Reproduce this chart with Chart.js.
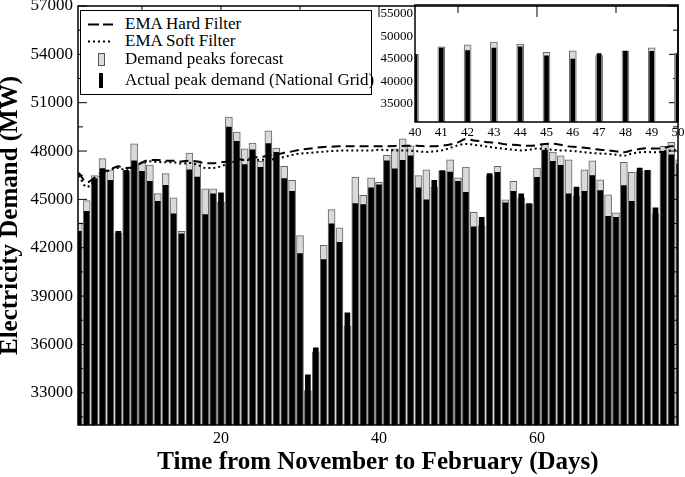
<!DOCTYPE html>
<html>
<head>
<meta charset="utf-8">
<script src="https://cdn.jsdelivr.net/npm/chart.js@4.4.1/dist/chart.umd.min.js"></script>
<style>
  html, body { margin: 0; padding: 0; background: #fff; }
  #wrap { position: relative; width: 685px; height: 477px; overflow: hidden; }
  #main-chart { position: absolute; left: 0; top: 0; }
  #inset-chart { position: absolute; left: 370px; top: 0; }
  #legend-box { position: absolute; left: 80px; top: 10px; width: 290px; height: 83px; border: 1.5px solid #000; background: #fff; }
  .leg-text { position: absolute; left: 125px; height: 20px; line-height: 20px; white-space: nowrap;
              font-family: 'Liberation Serif', 'Times New Roman', serif; font-size: 17px; color: #000; }
  .leg-sym { position: absolute; }
</style>
</head>
<body>
<div id="wrap">
  <canvas id="main-chart" width="685" height="477"></canvas>
  <canvas id="inset-chart" width="315" height="145"></canvas>
  <div id="legend-box"></div>
  <svg class="leg-sym" style="left:88px; top:23px" width="25" height="3"><line x1="0" y1="1.5" x2="25" y2="1.5" stroke="#000" stroke-width="2" stroke-dasharray="11 4"/></svg>
  <div class="leg-text" style="top:14px">EMA Hard Filter</div>
  <svg class="leg-sym" style="left:88px; top:40px" width="25" height="3"><line x1="0" y1="1.5" x2="25" y2="1.5" stroke="#000" stroke-width="2" stroke-dasharray="2 3"/></svg>
  <div class="leg-text" style="top:31px">EMA Soft Filter</div>
  <div class="leg-sym" style="left:98px; top:53px; width:5px; height:11px; background:#dcdcdc; border:1px solid #555"></div>
  <div class="leg-text" style="top:49px">Demand peaks forecast</div>
  <div class="leg-sym" style="left:99px; top:73px; width:4px; height:15px; background:#000"></div>
  <div class="leg-text" style="top:70px">Actual peak demand (National Grid)</div>
</div>
<script>
// 每日峰值需求 (MW)
const days = [2, 3, 4, 5, 6, 7, 8, 9, 10, 11, 12, 13, 14, 15, 16, 17, 18, 19, 20, 21,
              22, 23, 24, 25, 26, 27, 28, 29, 30, 31, 32, 33, 34, 35, 36, 37, 38, 39, 40, 41,
              42, 43, 44, 45, 46, 47, 48, 49, 50, 51, 52, 53, 54, 55, 56, 57, 58, 59, 60, 61,
              62, 63, 64, 65, 66, 67, 68, 69, 70, 71, 72, 73, 74, 75, 76, 77, 78];

const forecastPeak = [43540, 44920, 46470, 47530, 46840, 42900, 46750, 48440, 47260, 47130,
                      45360, 46600, 45090, 43020, 47880, 47400, 45650, 45650, 44820, 50110,
                      49180, 48130, 48500, 47360, 49260, 48190, 47050, 46180, 42750, 33140,
                      35540, 42150, 44360, 43230, 37130, 46390, 45250, 46330, 46060, 47730,
                      48130, 48750, 48330, 46470, 46840, 45770, 46740, 47460, 46330, 47010,
                      44200, 43370, 46470, 47050, 44980, 46120, 45090, 44700, 46950, 48460,
                      47940, 47710, 47460, 45190, 46840, 47400, 46220, 45290, 44160, 47300,
                      46680, 46740, 46780, 44100, 48290, 48540, 47460];

const actualPeak = [43020, 44260, 46270, 46910, 46180, 43020, 46800, 47400, 46740, 46120,
                    44880, 45870, 44100, 42860, 46840, 46390, 44050, 45340, 45400, 49490,
                    48600, 47160, 48080, 46990, 48460, 47920, 46290, 45500, 41640, 34110,
                    35790, 41260, 43480, 42340, 37960, 44740, 44670, 45710, 45910, 47400,
                    46890, 47420, 47710, 45710, 44980, 46180, 46780, 46700, 46120, 45440,
                    43290, 43890, 46600, 46680, 44780, 45500, 45340, 44740, 46370, 48040,
                    47360, 47110, 45340, 45770, 45500, 46470, 45540, 43950, 43890, 45850,
                    44880, 46950, 46800, 44470, 47980, 47770, 47200];

const emaHard = [46650, 46050, 46350, 46700, 46850, 47050, 46950, 47000, 47300, 47450,
                 47450, 47400, 47400, 47350, 47400, 47350, 47250, 47250, 47300, 47350,
                 47500, 47450, 47600, 47620, 47710, 47770, 47900, 47980, 48080, 48140,
                 48200, 48250, 48270, 48290, 48290, 48290, 48290, 48290, 48290, 48300,
                 48310, 48320, 48330, 48320, 48300, 48300, 48330, 48400, 48540, 48750,
                 48660, 48600, 48540, 48500, 48420, 48390, 48350, 48330, 48360, 48440,
                 48460, 48390, 48290, 48250, 48200, 48150, 48080, 48040, 47980, 47920,
                 48040, 48130, 48170, 48150, 48190, 48290, 48290];

const emaSoft = [46470, 45770, 46120, 46530, 46840, 46950, 46800, 47050, 47260, 47360,
                 47320, 47300, 47300, 47220, 47260, 47150, 46950, 46950, 47050, 47260,
                 47360, 47460, 47420, 47460, 47460, 47530, 47630, 47760, 47840, 47880,
                 47920, 47960, 48000, 48020, 48040, 48040, 48040, 48040, 48080, 48060,
                 48040, 48040, 48020, 47980, 47940, 47980, 48040, 48190, 48350, 48440,
                 48390, 48330, 48250, 48190, 48130, 48080, 48040, 48080, 48150, 48130,
                 48080, 48040, 48020, 47980, 47920, 47880, 47840, 47820, 47770, 47710,
                 47840, 47920, 47940, 47920, 47980, 48040, 48080];

// 座標軸刻度
const yTicksMain = [33000, 36000, 39000, 42000, 45000, 48000, 51000, 54000, 57000];
const yMinorMain = [31500, 34500, 37500, 40500, 43500, 46500, 49500, 52500, 55500];
const xTicksMain = [20, 40, 60];
const xMinorMain = [10, 30, 50, 70];
const yTicksInset = [35000, 40000, 45000, 50000, 55000];
const xTicksInset = [40, 41, 42, 43, 44, 45, 46, 47, 48, 49, 50];

const serif = "'Liberation Serif', 'Times New Roman', serif";
Chart.defaults.font.family = serif;
Chart.defaults.color = '#000';

function points(values) {
    return days.map((d, i) => ({ x: d, y: values[i] }));
}

// 外框與向內刻度
const mainFrame = {
    id: 'mainFrame',
    afterDatasetsDraw(chart) {
        const { ctx, chartArea: a, scales: { x, y } } = chart;
        ctx.save();
        ctx.strokeStyle = '#000';
        ctx.lineWidth = 1;
        ctx.beginPath();
        const tickY = (v, len) => {
            const py = y.getPixelForValue(v);
            ctx.moveTo(a.left, py); ctx.lineTo(a.left + len, py);
            ctx.moveTo(a.right, py); ctx.lineTo(a.right - len, py);
        };
        const tickX = (v, len) => {
            const px = x.getPixelForValue(v);
            ctx.moveTo(px, a.top); ctx.lineTo(px, a.top + len);
            ctx.moveTo(px, a.bottom); ctx.lineTo(px, a.bottom - len);
        };
        yTicksMain.forEach(v => tickY(v, 9));
        yMinorMain.forEach(v => tickY(v, 5));
        xTicksMain.forEach(v => tickX(v, 11));
        xMinorMain.forEach(v => tickX(v, 7));
        ctx.stroke();
        ctx.lineWidth = 1.5;
        ctx.strokeRect(a.left, a.top, a.right - a.left, a.bottom - a.top);
        ctx.restore();
    }
};

const insetFrame = {
    id: 'insetFrame',
    afterDatasetsDraw(chart) {
        const { ctx, chartArea: a } = chart;
        ctx.save();
        ctx.strokeStyle = '#000';
        ctx.lineWidth = 1.5;
        ctx.strokeRect(a.left, a.top, a.right - a.left, a.bottom - a.top);
        ctx.restore();
    }
};

// 主圖表
new Chart(document.getElementById('main-chart'), {
    type: 'bar',
    data: {
        datasets: [
            {
                type: 'line',
                label: 'EMA Hard Filter',
                data: points(emaHard),
                borderColor: '#000',
                borderWidth: 2,
                borderDash: [9, 5],
                pointRadius: 0,
                cubicInterpolationMode: 'monotone',
                order: 0
            },
            {
                type: 'line',
                label: 'EMA Soft Filter',
                data: points(emaSoft),
                borderColor: '#000',
                borderWidth: 2,
                borderDash: [2, 3],
                pointRadius: 0,
                cubicInterpolationMode: 'monotone',
                order: 0
            },
            {
                label: 'Actual peak demand (National Grid)',
                data: points(actualPeak),
                backgroundColor: '#000',
                barThickness: 5,
                grouped: false,
                order: 1
            },
            {
                label: 'Demand peaks forecast',
                data: points(forecastPeak),
                backgroundColor: '#d9d9d9',
                borderColor: '#666',
                borderWidth: 1,
                barThickness: 7,
                grouped: false,
                order: 2
            }
        ]
    },
    options: {
        responsive: false,
        animation: false,
        layout: { padding: { left: 0, right: 7, top: 6, bottom: 0 } },
        plugins: { legend: { display: false }, tooltip: { enabled: false } },
        scales: {
            x: {
                type: 'linear',
                offset: false,
                min: 1.9,
                max: 77.85,
                grid: { display: false, drawTicks: false, offset: false },
                border: { display: false },
                afterBuildTicks: s => { s.ticks = xTicksMain.map(v => ({ value: v })); },
                afterFit: s => { s.height = 52; s.paddingLeft = 0; s.paddingRight = 0; },
                ticks: { font: { size: 16 }, padding: 4, autoSkip: false, maxRotation: 0, callback: v => String(v) },
                title: {
                    display: true,
                    text: 'Time from November to February (Days)',
                    font: { size: 25, weight: 'bold', lineHeight: 1.16 },
                    padding: 0
                }
            },
            y: {
                min: 31000,
                max: 57000,
                grid: { display: false, drawTicks: false },
                border: { display: false },
                afterBuildTicks: s => { s.ticks = yTicksMain.map(v => ({ value: v })); },
                afterFit: s => { s.width = 78; s.paddingTop = 0; s.paddingBottom = 0; },
                ticks: { font: { size: 17 }, padding: 5, autoSkip: false, callback: v => String(v) },
                title: {
                    display: true,
                    text: 'Electricity Demand (MW)',
                    font: { size: 25, weight: 'bold', lineHeight: 0.84 },
                    padding: 0
                }
            }
        }
    },
    plugins: [mainFrame]
});

// 放大圖 (第40至50天)
new Chart(document.getElementById('inset-chart'), {
    type: 'bar',
    data: {
        datasets: [
            {
                data: points(actualPeak),
                backgroundColor: '#000',
                barThickness: 4,
                grouped: false,
                order: 1
            },
            {
                data: points(forecastPeak),
                backgroundColor: '#d9d9d9',
                borderColor: '#666',
                borderWidth: 1,
                barThickness: 7,
                grouped: false,
                order: 2
            }
        ]
    },
    options: {
        responsive: false,
        animation: false,
        layout: { padding: { left: 0, right: 7, top: 5, bottom: 0 } },
        plugins: { legend: { display: false }, tooltip: { enabled: false } },
        scales: {
            x: {
                type: 'linear',
                offset: false,
                min: 40,
                max: 50,
                grid: { display: false, drawTicks: false, offset: false },
                border: { display: false },
                afterBuildTicks: s => { s.ticks = xTicksInset.map(v => ({ value: v })); },
                afterFit: s => { s.height = 23; s.paddingLeft = 0; s.paddingRight = 0; },
                ticks: { font: { size: 13 }, padding: 3, autoSkip: false, maxRotation: 0, callback: v => String(v) }
            },
            y: {
                min: 31000,
                max: 57000,
                grid: { display: false, drawTicks: false },
                border: { display: false },
                afterBuildTicks: s => { s.ticks = yTicksInset.map(v => ({ value: v })); },
                afterFit: s => { s.width = 45; s.paddingTop = 0; s.paddingBottom = 0; },
                ticks: { font: { size: 13 }, padding: 2, autoSkip: false, callback: v => String(v) }
            }
        }
    },
    plugins: [insetFrame]
});
</script>
</body>
</html>
